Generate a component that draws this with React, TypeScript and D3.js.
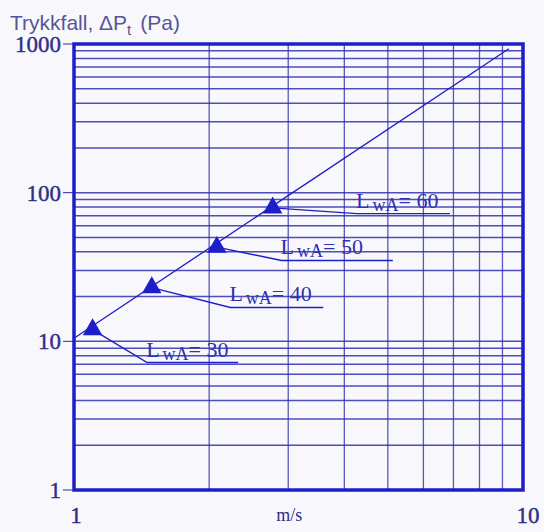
import React from "react";
import * as d3 from "d3";

const W = 544;
const H = 532;

// Markers (velocity m/s, pressure drop Pa)
const pointV = [1.1, 1.49, 2.08, 2.77];
const pointP = [12, 23, 43, 79];
const levelLabels = ["30", "40", "50", "60"];
// Leader line end (in data coords) and underline end velocity
const leaderV = [1.455, 2.23, 2.9, 4.27];
const leaderP = [7.2, 16.9, 35.0, 72.3];
const underlineEndV = [2.32, 3.59, 5.13, 6.88];

// Diagonal line endpoints
const lineV = [1.0, 9.3];
const lineP = [10.5, 930];

const yTickValues = [1, 10, 100, 1000];
const yTickLabels = ["1", "10", "100", "1000"];
const xTickValues = [1, 10];
const xTickLabels = ["1", "10"];
const xGridValues = [2, 3, 4, 5, 6, 7, 8, 9];
const yGridMultipliers = [2, 3, 4, 5, 6, 7, 8, 9];
const yDecades = [1, 10, 100];

const BLUE = "#1e1ec8";
const GRID = "#3030b0";
const TEXT = "#2e2e86";

export default function App() {
  const x = d3.scaleLog().domain([1, 10]).range([74, 523]);
  const y = d3.scaleLog().domain([1, 1000]).range([490, 44]);
  const [x0, x1] = x.range();
  const [y0, y1] = y.range();

  const hGrid: number[] = [];
  yDecades.forEach((d) => yGridMultipliers.forEach((m) => hGrid.push(d * m)));
  hGrid.push(10, 100);

  const lineGen = d3
    .line<[number, number]>()
    .x((d) => x(d[0]))
    .y((d) => y(d[1]));
  const diag = lineGen(lineV.map((v, i) => [v, lineP[i]] as [number, number]));

  const tri = d3.symbol().type(d3.symbolTriangle).size(165)();

  return (
    <svg
      width={W}
      height={H}
      style={{ position: "absolute", left: 0, top: 0 }}
    >
      <rect x={0} y={0} width={W} height={H} fill="#f8f8fc" />
      {/* Title */}
      <text
        x={10}
        y={30}
        fontFamily="Liberation Sans, Arial, sans-serif"
        fontSize={21}
        fill="#555599"
      >
        Trykkfall, ΔP
        <tspan fontSize={15} dy={5}>t</tspan>
        <tspan dy={-5} dx={9}>(Pa)</tspan>
      </text>

      {/* horizontal grid */}
      {hGrid.map((v, i) => (
        <line
          key={"h" + i}
          x1={x0}
          x2={x1}
          y1={y(v)}
          y2={y(v)}
          stroke={GRID}
          strokeWidth={1.5}
          opacity={0.85}
        />
      ))}
      {/* vertical grid */}
      {xGridValues.map((v, i) => (
        <line
          key={"v" + i}
          x1={x(v)}
          x2={x(v)}
          y1={y0}
          y2={y1}
          stroke={GRID}
          strokeWidth={1.3}
          opacity={0.8}
        />
      ))}

      {/* frame */}
      <rect
        x={x0}
        y={y1}
        width={x1 - x0}
        height={y0 - y1}
        fill="none"
        stroke={BLUE}
        strokeWidth={3.5}
      />

      {/* y ticks and labels */}
      {yTickValues.map((v, i) => (
        <g key={"yt" + i}>
          <line x1={63} x2={x0} y1={y(v)} y2={y(v)} stroke={TEXT} strokeWidth={1} />
          <text
            x={61}
            y={y(v) + 8}
            textAnchor="end"
            fontFamily="Liberation Serif, Times New Roman, serif"
            fontSize={23}
            fill={TEXT}
            stroke={TEXT}
            strokeWidth={0.4}
          >
            {yTickLabels[i]}
          </text>
        </g>
      ))}
      {/* x labels */}
      {xTickValues.map((v, i) => (
        <text
          key={"xt" + i}
          x={x(v) + (i === 0 ? 2 : 5)}
          y={523}
          textAnchor="middle"
          fontFamily="Liberation Serif, Times New Roman, serif"
          fontSize={23}
          fill={TEXT}
          stroke={TEXT}
          strokeWidth={0.4}
        >
          {xTickLabels[i]}
        </text>
      ))}
      <text
        x={x(3) + 1}
        y={521}
        textAnchor="middle"
        fontFamily="Liberation Serif, Times New Roman, serif"
        fontSize={18}
        fill={TEXT}
      >
        m/s
      </text>

      {/* diagonal */}
      <path d={diag || ""} fill="none" stroke={BLUE} strokeWidth={1.3} />

      {/* leaders, underlines and labels */}
      {pointV.map((v, i) => {
        const px = x(v);
        const py = y(pointP[i]);
        const lx = x(leaderV[i]);
        const ly = y(leaderP[i]);
        const ux = x(underlineEndV[i]);
        return (
          <g key={"lab" + i}>
            <polyline
              points={`${px},${py} ${lx},${ly} ${ux},${ly}`}
              fill="none"
              stroke={BLUE}
              strokeWidth={1.4}
            />
            <text
              x={lx - 1}
              y={ly - 6}
              fontFamily="Liberation Serif, Times New Roman, serif"
              fontSize={22}
              fill="#3030b0"
            >
              L
              <tspan fontSize={18} dx={3} dy={3}>wA</tspan>
              <tspan dy={-3}>= {levelLabels[i]}</tspan>
            </text>
          </g>
        );
      })}

      {/* triangles */}
      {pointV.map((v, i) => (
        <path
          key={"tri" + i}
          d={tri || ""}
          transform={`translate(${x(v)},${y(pointP[i])})`}
          fill={BLUE}
        />
      ))}
    </svg>
  );
}
